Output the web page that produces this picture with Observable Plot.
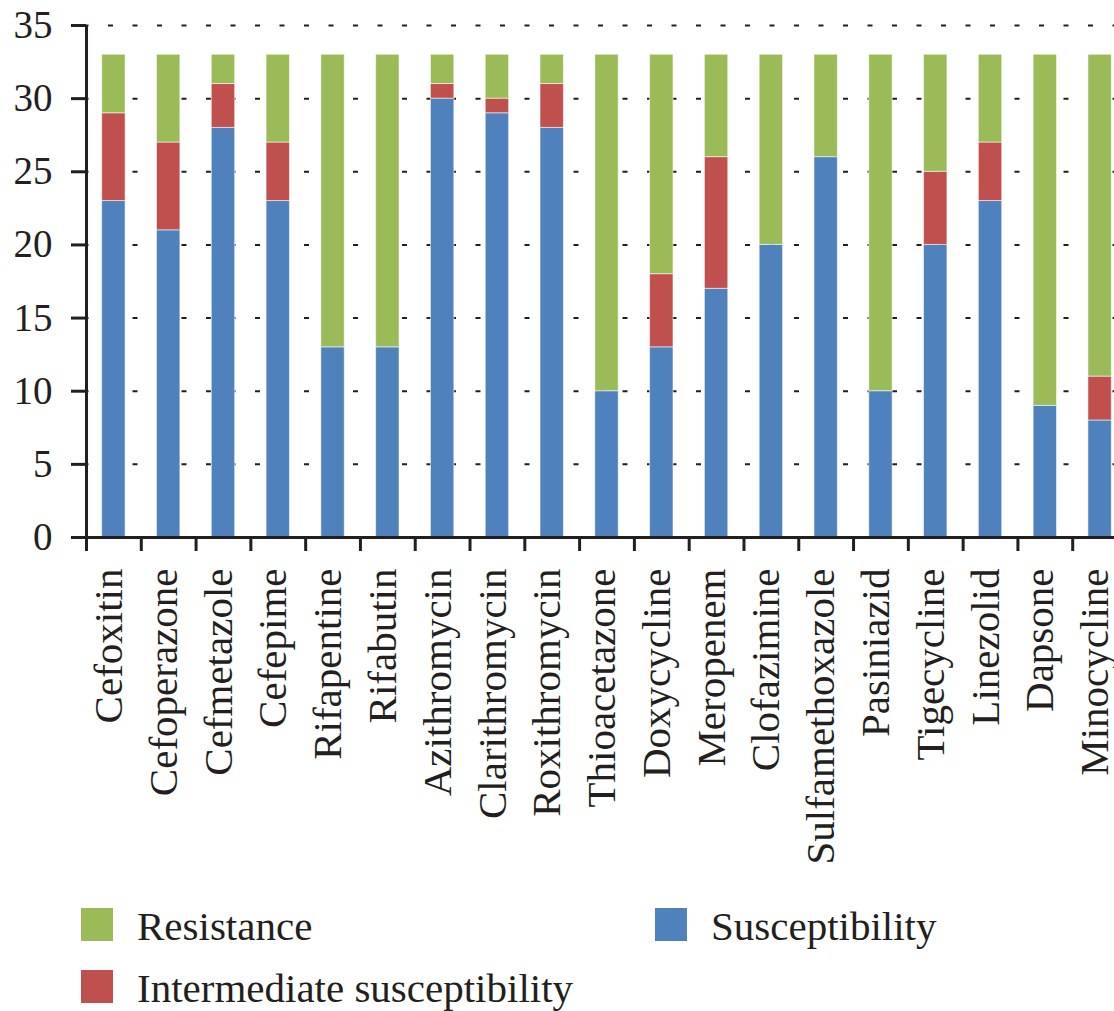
<!DOCTYPE html>
<html><head><meta charset="utf-8">
<script src="https://cdn.jsdelivr.net/npm/d3@7"></script>
<script src="https://cdn.jsdelivr.net/npm/@observablehq/plot@0.6"></script>
<style>
body{margin:0;background:#fff;overflow:hidden;}
#wrap{position:relative;width:1114px;height:1011px;overflow:hidden;font-family:"Liberation Serif",serif;color:#231F20;}
#chart{position:absolute;left:0;top:0;width:1127px;}
#chart svg{max-width:none !important;}
.sw{position:absolute;width:32px;height:33px;}
.lt{position:absolute;font-size:41px;line-height:41px;white-space:nowrap;}
</style></head><body><div id="wrap"><div id="chart"></div><div id="legend"></div></div>
<script>
const drugs = ["Cefoxitin","Cefoperazone","Cefmetazole","Cefepime","Rifapentine","Rifabutin","Azithromycin","Clarithromycin","Roxithromycin","Thioacetazone","Doxycycline","Meropenem","Clofazimine","Sulfamethoxazole","Pasiniazid","Tigecycline","Linezolid","Dapsone","Minocycline"];
const susceptibility = [23,21,28,23,13,13,30,29,28,10,13,17,20,26,10,20,23,9,8];
const intermediate   = [6,6,3,4,0,0,1,1,3,0,5,9,0,0,0,5,4,0,3];
const resistance     = [4,6,2,6,20,20,2,3,2,23,15,7,13,7,23,8,6,24,22];
const categories = ["Susceptibility","Intermediate susceptibility","Resistance"];
const colors = ["#4F81BD","#C0504D","#9BBB59"];
const yTicks = [0,5,10,15,20,25,30,35];

const rows = [];
drugs.forEach((d,i)=>{
  rows.push({drug:d,status:categories[0],value:susceptibility[i]});
  rows.push({drug:d,status:categories[1],value:intermediate[i]});
  rows.push({drug:d,status:categories[2],value:resistance[i]});
});

const W = 1127, ML = 86;
const step = (W - ML) / drugs.length;
const ink = "#231F20";

const plot = Plot.plot({
  width: W, height: 877,
  marginLeft: ML, marginRight: 0, marginTop: 25, marginBottom: 340,
  style: {fontFamily: '"Liberation Serif", serif', color: ink, background: "white", overflow: "visible", maxWidth: "none"},
  x: {domain: drugs, padding: 0, round: false, label: null},
  y: {domain: [0, 35], label: null},
  color: {domain: categories, range: colors},
  marks: [
    Plot.gridY(yTicks.slice(1), {stroke: ink, strokeOpacity: 1, strokeWidth: 2, strokeDasharray: "5,19.5", strokeDashoffset: 2.5}),
    Plot.barY(rows, {x: "drug", y: "value", fill: "status", order: categories,
      insetLeft: 15.7, insetRight: 15.7, stroke: "#fff", strokeOpacity: 0.55, strokeWidth: 1}),
    Plot.ruleY([0], {stroke: ink, strokeWidth: 3}),
    Plot.ruleX([drugs[0]], {y1: 0, y2: 35, dx: -step/2, stroke: ink, strokeWidth: 3}),
    Plot.axisY(yTicks, {tickSize: 15, tickPadding: 19, fontSize: 39, stroke: ink, strokeWidth: 3, label: null}),
    Plot.axisX(drugs, {tickSize: 14, dx: -step/2, tickFormat: () => "", stroke: ink, strokeWidth: 3, label: null}),
    Plot.axisX(drugs, {tickSize: 0, tickPadding: 31, tickRotate: -90, fontSize: 41, dx: -5, label: null})
  ]
});
plot.style.maxWidth = "none";
document.getElementById("chart").appendChild(plot);

const legendItems = [
  {name: categories[2], color: colors[2], sx: 81, sy: 908, tx: 137, ty: 906},
  {name: categories[1], color: colors[1], sx: 81, sy: 970, tx: 137, ty: 968},
  {name: categories[0], color: colors[0], sx: 655, sy: 908, tx: 711, ty: 906}
];
const lg = document.getElementById("legend");
legendItems.forEach(it => {
  const s = document.createElement("div");
  s.className = "sw";
  s.style.left = it.sx + "px"; s.style.top = it.sy + "px"; s.style.background = it.color;
  lg.appendChild(s);
  const t = document.createElement("div");
  t.className = "lt";
  t.style.left = it.tx + "px"; t.style.top = it.ty + "px";
  t.textContent = it.name;
  lg.appendChild(t);
});
</script></body></html>
